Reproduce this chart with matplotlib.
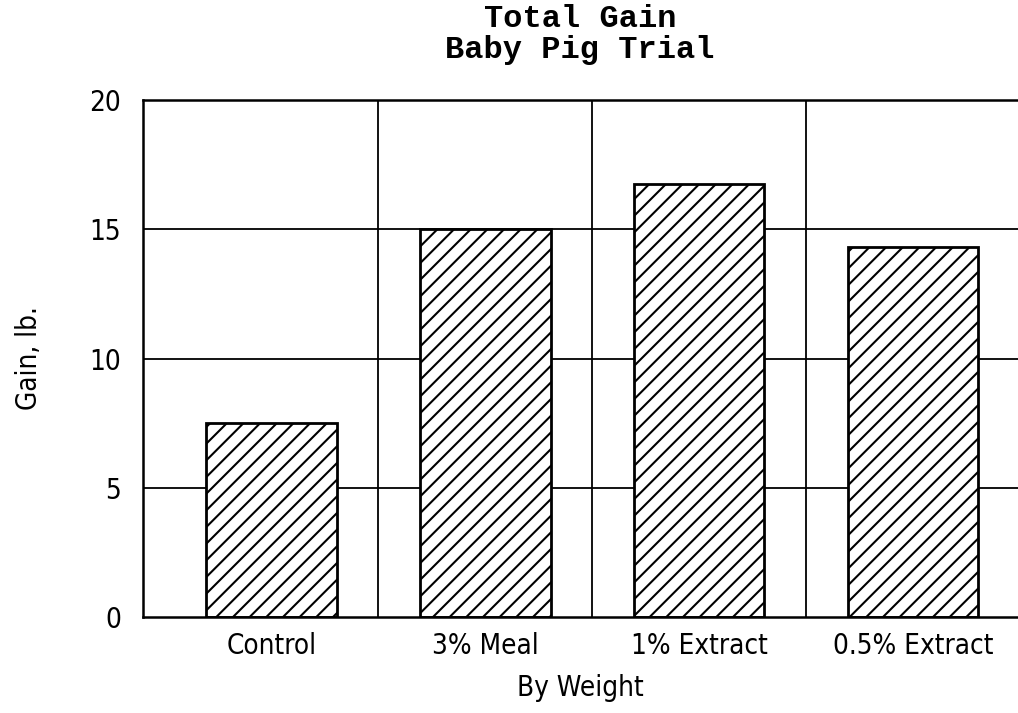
import matplotlib
matplotlib.use("Agg")
import matplotlib.pyplot as plt
import numpy as np

# data
categories = ["Control", "3% Meal", "1% Extract", "0.5% Extract"]
gain = [7.5, 15.0, 16.75, 14.3]
yticks = [0, 5, 10, 15, 20]

plt.rcParams['hatch.linewidth'] = 1.5
plt.rcParams['hatch.color'] = 'black'

fig = plt.figure(figsize=(10.18, 7.13), dpi=100)
ax = fig.add_axes([143/1018, 1 - 617/713, (1018 - 143)/1018, (617 - 100)/713])

x = np.arange(len(categories))

# grid: horizontal lines at ticks, vertical lines between groups
for y in yticks[1:-1]:
    ax.axhline(y, color='black', lw=1.3, zorder=1)
for b in x[:-1] + 0.5:
    ax.axvline(b, color='black', lw=1.3, zorder=1)

ax.bar(x, gain, width=0.61, color='white', edgecolor='black', linewidth=2,
       hatch='//', zorder=2)

ax.set_xlim(-0.6, 3.49)
ax.set_ylim(0, 20)
ax.set_yticks(yticks)
ax.set_xticks(x)
ax.set_xticklabels(categories)

for s in ['left', 'bottom', 'top']:
    ax.spines[s].set_linewidth(1.8)
ax.spines['right'].set_visible(False)

ax.tick_params(axis='y', length=0, pad=16, labelsize=20)
ax.tick_params(axis='x', length=0, pad=11, labelsize=20)
for lab in ax.get_xticklabels() + ax.get_yticklabels():
    lab.set_fontstretch('condensed')

ax.set_xlabel("By Weight", fontsize=20, labelpad=10, stretch='condensed')
ax.set_ylabel("Gain, lb.", fontsize=20, labelpad=33, stretch='condensed')

fig.text(580/1018, 1 - 19/713, "Total Gain", ha='center', va='center',
         fontsize=23, family='Liberation Mono', weight='bold')
fig.text(580/1018, 1 - 50/713, "Baby Pig Trial", ha='center', va='center',
         fontsize=23, family='Liberation Mono', weight='bold')

fig.savefig("out.png", dpi=100)
